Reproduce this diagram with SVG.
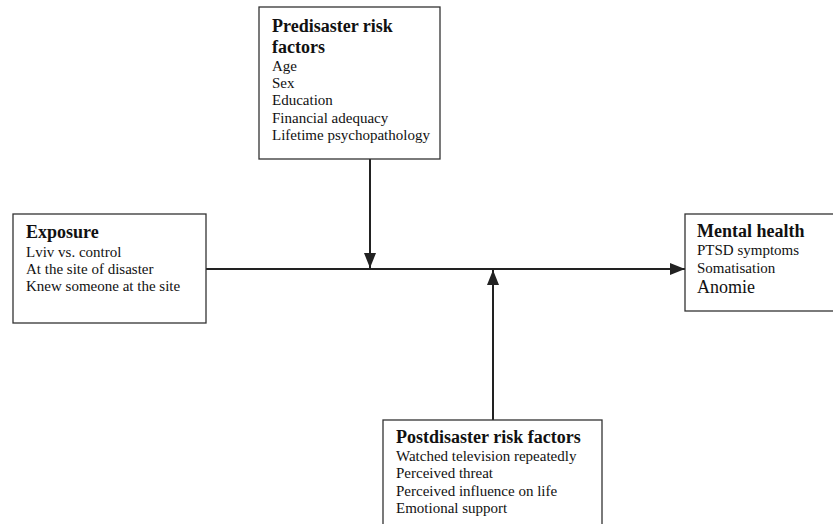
<svg xmlns="http://www.w3.org/2000/svg" width="833" height="524" viewBox="0 0 833 524">
<style>
.box{fill:#fff;stroke:#333;stroke-width:1.3}
.h{font-family:"Liberation Serif","Times New Roman",serif;font-size:18px;font-weight:bold;fill:#111}
.t{font-family:"Liberation Serif","Times New Roman",serif;font-size:15px;fill:#111}
.big{font-size:18px}
.ln{stroke:#222;stroke-width:2;fill:none}
</style>
<defs>
<marker id="ah" markerUnits="userSpaceOnUse" markerWidth="15" markerHeight="12" refX="15" refY="6" orient="auto">
<path d="M0,0 L15,6 L0,12 z" fill="#222"/>
</marker>
</defs>
<rect width="833" height="524" fill="#fff"/>
<g id="connectors">
<line class="ln" x1="206" y1="269" x2="685" y2="269" marker-end="url(#ah)"/>
<line class="ln" x1="370" y1="159" x2="370" y2="268" marker-end="url(#ah)"/>
<line class="ln" x1="493" y1="420" x2="493" y2="270" marker-end="url(#ah)"/>
</g>
<g id="predisaster">
<rect class="box" x="259" y="7" width="181" height="152"/>
<text class="h" x="272" y="32">Predisaster risk</text>
<text class="h" x="272" y="53">factors</text>
<text class="t" x="272" y="71">Age</text>
<text class="t" x="272" y="88">Sex</text>
<text class="t" x="272" y="105">Education</text>
<text class="t" x="272" y="123">Financial adequacy</text>
<text class="t" x="272" y="140">Lifetime psychopathology</text>
</g>
<g id="exposure">
<rect class="box" x="13" y="214" width="193" height="109"/>
<text class="h" x="26" y="238">Exposure</text>
<text class="t" x="26" y="257">Lviv vs. control</text>
<text class="t" x="26" y="274">At the site of disaster</text>
<text class="t" x="26" y="291">Knew someone at the site</text>
</g>
<g id="mental">
<rect class="box" x="685" y="214" width="160" height="97"/>
<text class="h" x="697" y="237">Mental health</text>
<text class="t" x="697" y="255">PTSD symptoms</text>
<text class="t" x="697" y="273">Somatisation</text>
<text class="t big" x="697" y="293">Anomie</text>
</g>
<g id="postdisaster">
<rect class="box" x="383" y="420" width="219" height="120"/>
<text class="h" x="396" y="443">Postdisaster risk factors</text>
<text class="t" x="396" y="461">Watched television repeatedly</text>
<text class="t" x="396" y="478">Perceived threat</text>
<text class="t" x="396" y="496">Perceived influence on life</text>
<text class="t" x="396" y="513">Emotional support</text>
</g>
</svg>
